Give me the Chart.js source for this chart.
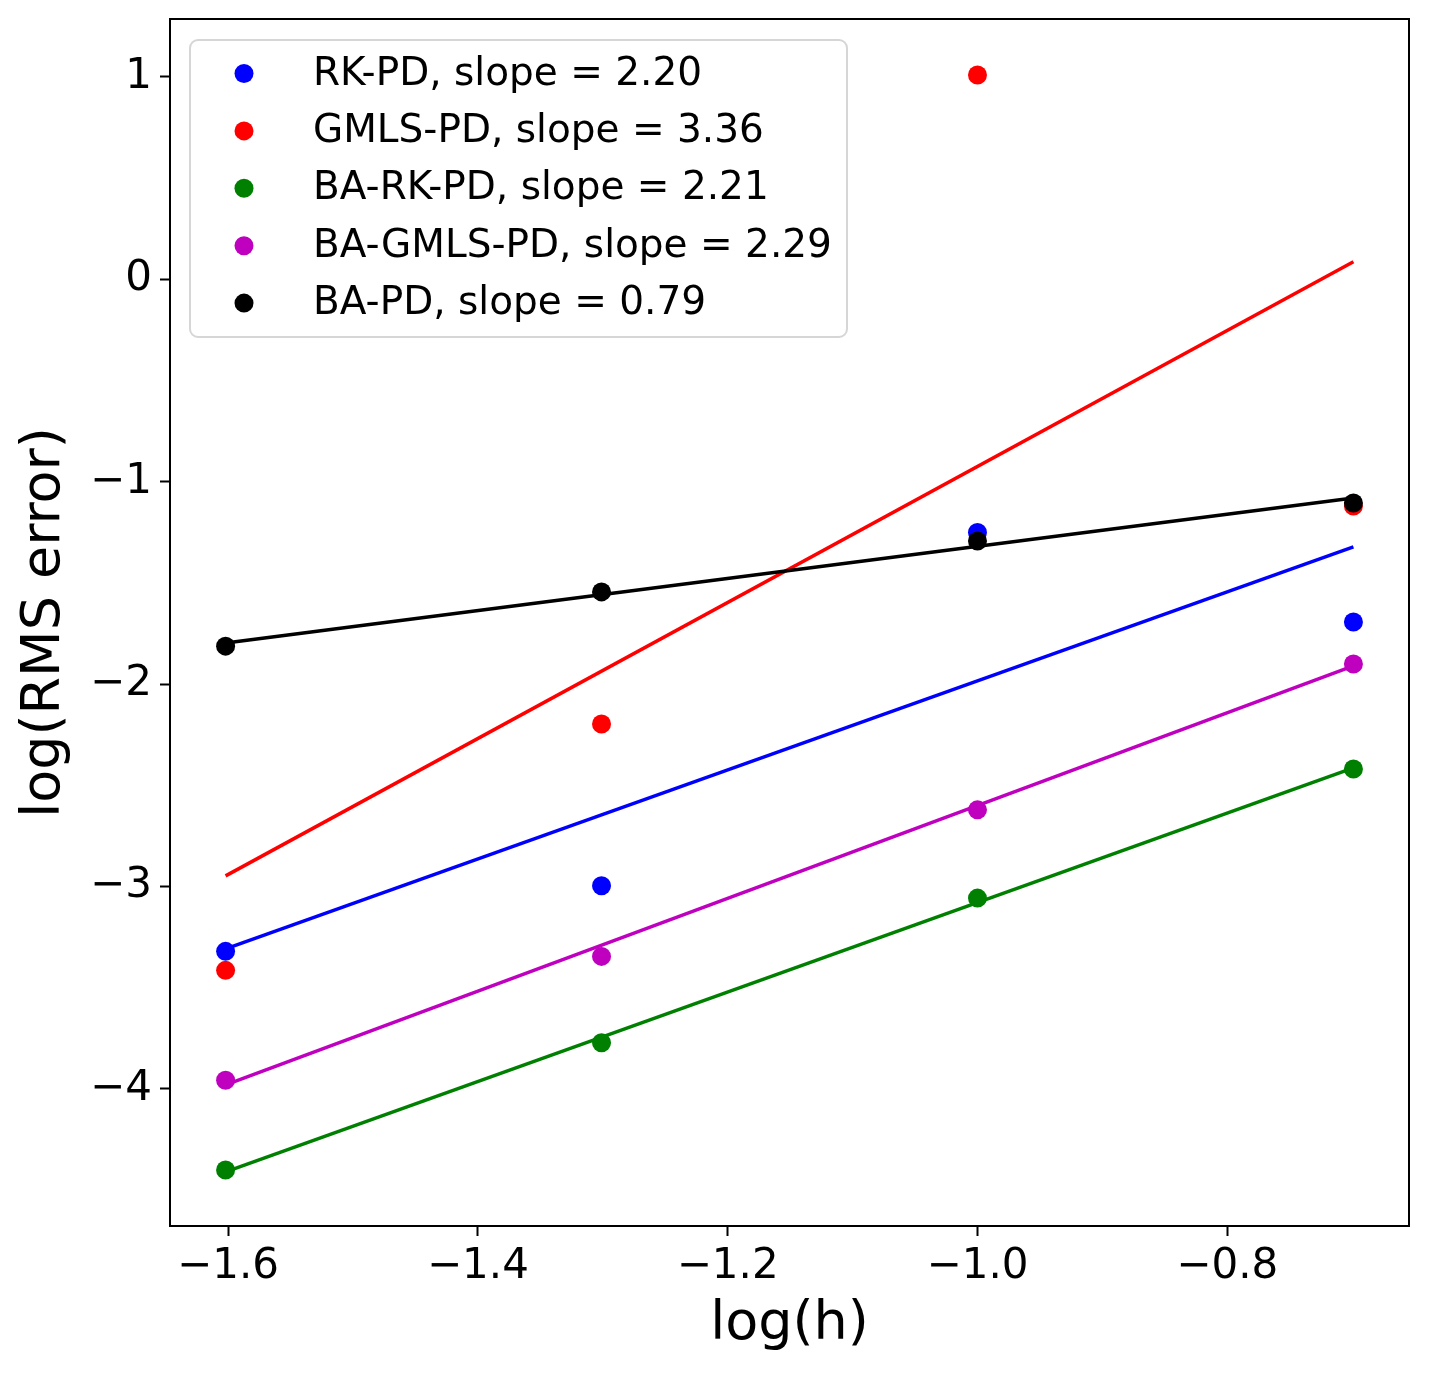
<!DOCTYPE html>
<html>
<head>
<meta charset="utf-8">
<script src="https://cdn.jsdelivr.net/npm/chart.js@4.4.1/dist/chart.umd.min.js"></script>
<style>
  html, body { margin: 0; padding: 0; background: #fff; }
  #wrap { width: 1430px; height: 1375px; }
</style>
</head>
<body>
<div id="wrap"><canvas id="chart" width="1430" height="1375"></canvas></div>
<script>
// log(h) for h = 0.025, 0.05, 0.1, 0.2
const logH = [-1.602, -1.301, -1.0, -0.699]

// log(RMS error)
const rkPD     = [-3.320, -2.996, -1.251, -1.693]
const gmlsPD   = [-3.414, -2.197, 1.010, -1.120]
const baRkPD   = [-4.400, -3.772, -3.057, -2.419]
const baGmlsPD = [-3.957, -3.345, -2.621, -1.900]
const baPD     = [-1.812, -1.544, -1.293, -1.105]

// fitted lines, values at the first and last log(h)
const fitX        = [-1.602, -0.699]
const fitRkPD     = [-3.308, -1.322]
const fitGmlsPD   = [-2.947, 0.087]
const fitBaRkPD   = [-4.410, -2.414]
const fitBaGmlsPD = [-3.980, -1.910]
const fitBaPD     = [-1.796, -1.080]

const names = ['RK-PD, slope = 2.20', 'GMLS-PD, slope = 3.36', 'BA-RK-PD, slope = 2.21',
               'BA-GMLS-PD, slope = 2.29', 'BA-PD, slope = 0.79']
const colors = ['#0000ff', '#ff0000', '#008000', '#bf00bf', '#000000']

const xTicks = [-1.6, -1.4, -1.2, -1.0, -0.8]
const yTicks = [-4, -3, -2, -1, 0, 1]

const FONT = 'DejaVu Sans'
const minus = s => s.replace('-', '\u2212')

const series = [rkPD, gmlsPD, baRkPD, baGmlsPD, baPD]
const fits = [fitRkPD, fitGmlsPD, fitBaRkPD, fitBaGmlsPD, fitBaPD]

const datasets = []
series.forEach((ys, i) => {
  datasets.push({
    label: names[i],
    data: logH.map((x, k) => ({ x, y: ys[k] })),
    showLine: false,
    pointRadius: 9.5,
    pointHoverRadius: 9.5,
    pointBackgroundColor: colors[i],
    pointBorderWidth: 0,
    borderColor: colors[i],
    order: (5 - i) * 2
  })
  datasets.push({
    label: names[i] + ' fit',
    data: fitX.map((x, k) => ({ x, y: fits[i][k] })),
    showLine: true,
    pointRadius: 0,
    borderWidth: 3.5,
    borderColor: colors[i],
    fill: false,
    order: (5 - i) * 2 - 1
  })
})

// matplotlib-like legend box in the upper left of the axes
const boxLegend = {
  id: 'boxLegend',
  afterDatasetsDraw(chart) {
    const { ctx, chartArea } = chart
    const left = chartArea.left + 20, top = chartArea.top + 21
    const w = 657, h = 297, r = 8
    ctx.save()
    ctx.beginPath()
    ctx.roundRect(left, top, w, h, r)
    ctx.fillStyle = 'rgba(255,255,255,0.8)'
    ctx.fill()
    ctx.lineWidth = 2
    ctx.strokeStyle = '#d6d6d6'
    ctx.stroke()
    ctx.font = '39px "' + FONT + '"'
    ctx.textBaseline = 'middle'
    ctx.textAlign = 'left'
    names.forEach((name, i) => {
      const y = top + 33.5 + i * 57.4
      ctx.beginPath()
      ctx.arc(left + 54, y, 9.5, 0, Math.PI * 2)
      ctx.fillStyle = colors[i]
      ctx.fill()
      ctx.fillStyle = '#000'
      ctx.fillText(name, left + 123, y + 1)
    })
    ctx.restore()
  },
  afterDraw(chart) {
    const { ctx, chartArea } = chart
    ctx.save()
    ctx.lineWidth = 2
    ctx.strokeStyle = '#000'
    ctx.strokeRect(chartArea.left, chartArea.top, chartArea.right - chartArea.left, chartArea.bottom - chartArea.top)
    ctx.restore()
  }
}

const ctx = document.getElementById('chart').getContext('2d')
const chart = new Chart(ctx, {
  type: 'scatter',
  data: { datasets },
  options: {
    responsive: false,
    animation: false,
    devicePixelRatio: 1,
    layout: { padding: { top: 19, right: 21, left: 0, bottom: 0 } },
    plugins: {
      legend: { display: false },
      tooltip: { enabled: false }
    },
    scales: {
      x: {
        type: 'linear',
        min: -1.6465,
        max: -0.6545,
        afterBuildTicks: s => { s.ticks = xTicks.map(v => ({ value: v })) },
        afterFit: s => { s.height = 149; s.paddingLeft = 0; s.paddingRight = 0 },
        ticks: {
          callback: v => minus(v.toFixed(1)),
          font: { family: FONT, size: 42 },
          color: '#000',
          padding: 6,
          maxRotation: 0,
          autoSkip: false
        },
        grid: { drawOnChartArea: false, tickLength: 10, tickWidth: 2, tickColor: '#000' },
        border: { color: '#000', width: 2 },
        title: {
          display: true,
          text: 'log(h)',
          font: { family: FONT, size: 54 },
          color: '#000',
          padding: { top: 0, bottom: 18 }
        }
      },
      y: {
        type: 'linear',
        min: -4.677,
        max: 1.2865,
        afterBuildTicks: s => { s.ticks = yTicks.map(v => ({ value: v })) },
        afterFit: s => { s.width = 170; s.paddingTop = 0; s.paddingBottom = 0 },
        ticks: {
          callback: v => minus(String(v)),
          font: { family: FONT, size: 42 },
          color: '#000',
          padding: 8,
          autoSkip: false
        },
        grid: { drawOnChartArea: false, tickLength: 10, tickWidth: 2, tickColor: '#000' },
        border: { color: '#000', width: 2 },
        title: {
          display: true,
          text: 'log(RMS error)',
          font: { family: FONT, size: 54 },
          color: '#000',
          padding: { top: 13, bottom: 0 }
        }
      }
    }
  },
  plugins: [boxLegend]
})
</script>
</body>
</html>
